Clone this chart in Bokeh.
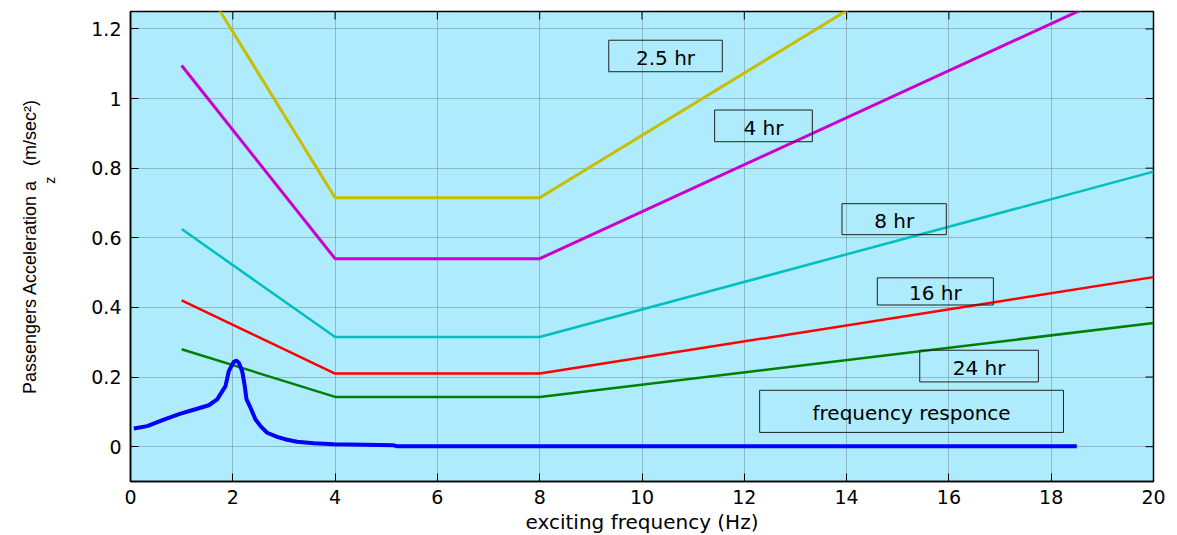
import math
from bokeh.plotting import figure
from bokeh.models import Title, FixedTicker, NumeralTickFormatter, ColumnDataSource
from bokeh.core.properties import value
from bokeh.embed import file_html
from bokeh.resources import INLINE

# ---- data ----
x_limit = [1, 4, 8, 20]
y_2_5hr = [1.43, 0.715, 0.715, 1.79]
y_4hr = [1.095, 0.54, 0.54, 1.35]
y_8hr = [0.625, 0.315, 0.315, 0.79]
y_16hr = [0.42, 0.21, 0.21, 0.487]
y_24hr = [0.28, 0.143, 0.143, 0.355]

freq_x = [0.065, 0.326, 0.652, 0.978, 1.303, 1.531, 1.694, 1.857, 1.922, 2.020, 2.072,
          2.118, 2.183, 2.229, 2.268, 2.346, 2.444, 2.542, 2.672, 2.867, 3.063, 3.258,
          3.584, 3.975, 5.148, 5.213, 18.5]
freq_y = [0.052, 0.059, 0.078, 0.095, 0.109, 0.119, 0.136, 0.174, 0.217, 0.244, 0.247,
          0.241, 0.217, 0.179, 0.136, 0.112, 0.078, 0.059, 0.040, 0.028, 0.020, 0.014,
          0.010, 0.007, 0.004, 0.001, 0.001]

x_ticks = [0, 2, 4, 6, 8, 10, 12, 14, 16, 18, 20]
y_ticks = [0, 0.2, 0.4, 0.6, 0.8, 1.0, 1.2]
x_min, x_max = 0, 20
y_min, y_max = -0.1, 1.25

box_text = ["2.5 hr", "4 hr", "8 hr", "16 hr", "24 hr", "frequency responce"]
box_left = [9.35, 11.42, 13.91, 14.60, 15.43, 12.30]
box_right = [11.57, 13.33, 15.95, 16.87, 17.75, 18.24]
box_top = [1.1675, 0.967, 0.698, 0.485, 0.277, 0.162]
box_bottom = [1.077, 0.876, 0.609, 0.407, 0.186, 0.041]

NBSP = "\u00a0"
ylabel_main = "Passengers Acceleration a" + NBSP * 3 + "(m/sec²)"
ylabel_sub = "z"

# ---- figure ----
p = figure(frame_width=1023, frame_height=470, x_range=(x_min, x_max), y_range=(y_min, y_max),
           output_backend="svg", toolbar_location=None,
           min_border_left=130, min_border_top=11, min_border_right=24, min_border_bottom=50,
           background_fill_color="#ADEBFD", border_fill_color="white")
p.outline_line_color = "black"
p.outline_line_width = 1.5

tick_font = "DejaVu Sans"
for ax in p.xaxis:
    ax.ticker = FixedTicker(ticks=x_ticks)
    ax.major_label_standoff = 8
for ax in p.yaxis:
    ax.ticker = FixedTicker(ticks=y_ticks)
    ax.formatter = NumeralTickFormatter(format="0.[0]")
    ax.major_label_standoff = 9

for ax in list(p.xaxis) + list(p.yaxis):
    ax.major_tick_in = 8
    ax.major_tick_out = 0
    ax.minor_tick_line_color = None
    ax.major_tick_line_color = "black"
    ax.axis_line_color = "black"
    ax.axis_line_width = 1.5
    ax.major_label_text_font = tick_font
    ax.major_label_text_font_size = "19px"
    ax.major_label_text_color = "black"

p.xaxis.axis_label = "exciting frequency (Hz)"
p.xaxis.axis_label_text_font = tick_font
p.xaxis.axis_label_text_font_size = "20px"
p.xaxis.axis_label_text_font_style = "normal"
p.xaxis.axis_label_text_color = "black"
p.xaxis.axis_label_standoff = 3

# subscript "z" of a_z: the y axis label, shifted up along the axis by leading no-break spaces
ylab_font = "Liberation Sans"
p.yaxis.axis_label = NBSP * 34 + ylabel_sub
p.yaxis.axis_label_text_font = ylab_font
p.yaxis.axis_label_text_font_size = "14px"
p.yaxis.axis_label_text_font_style = "normal"
p.yaxis.axis_label_text_color = "black"
p.yaxis.axis_label_standoff = 30

p.grid.grid_line_color = "#3a3a3a"
p.grid.grid_line_alpha = 0.55
p.grid.grid_line_dash = "1 1"
p.grid.grid_line_width = 1
p.xgrid.ticker = FixedTicker(ticks=x_ticks)
p.ygrid.ticker = FixedTicker(ticks=y_ticks)

# inner tick marks on the top and right frame edges (half of each dash is clipped)
p.scatter(x=x_ticks, y=[y_max] * len(x_ticks), marker="dash", angle=math.pi / 2,
          size=16, line_color="black", line_width=1)
p.scatter(x=[x_max] * len(y_ticks), y=y_ticks, marker="dash",
          size=16, line_color="black", line_width=1)

# ---- lines ----
p.line(x_limit, y_2_5hr, line_color="#C8BE00", line_width=3)
p.line(x_limit, y_4hr, line_color="#CC00CC", line_width=3)
p.line(x_limit, y_8hr, line_color="#00BFBF", line_width=2.5)
p.line(x_limit, y_16hr, line_color="#FF0000", line_width=2.5)
p.line(x_limit, y_24hr, line_color="#008000", line_width=2.5)
p.line(freq_x, freq_y, line_color="#0000FF", line_width=4)

# ---- label boxes ----
src = ColumnDataSource(dict(
    left=box_left, right=box_right, top=box_top, bottom=box_bottom, text=box_text,
    cx=[(l + r) / 2 for l, r in zip(box_left, box_right)],
    cy=[(t + b) / 2 for t, b in zip(box_top, box_bottom)],
))
p.quad(left="left", right="right", top="top", bottom="bottom", source=src,
       fill_alpha=0, line_color="#222222", line_width=1)
p.text(x="cx", y="cy", text="text", source=src, text_align="center",
       text_baseline="middle", y_offset=2, text_font=value(tick_font),
       text_font_size="20px", text_color="black")

# ---- main y axis label ----
t_main = Title(text=ylabel_main, align="center", standoff=0, text_font=ylab_font,
               text_font_size="18px", text_font_style="normal", text_color="black")
p.add_layout(t_main, "left")

open("out.html", "w").write(file_html(p, INLINE))
